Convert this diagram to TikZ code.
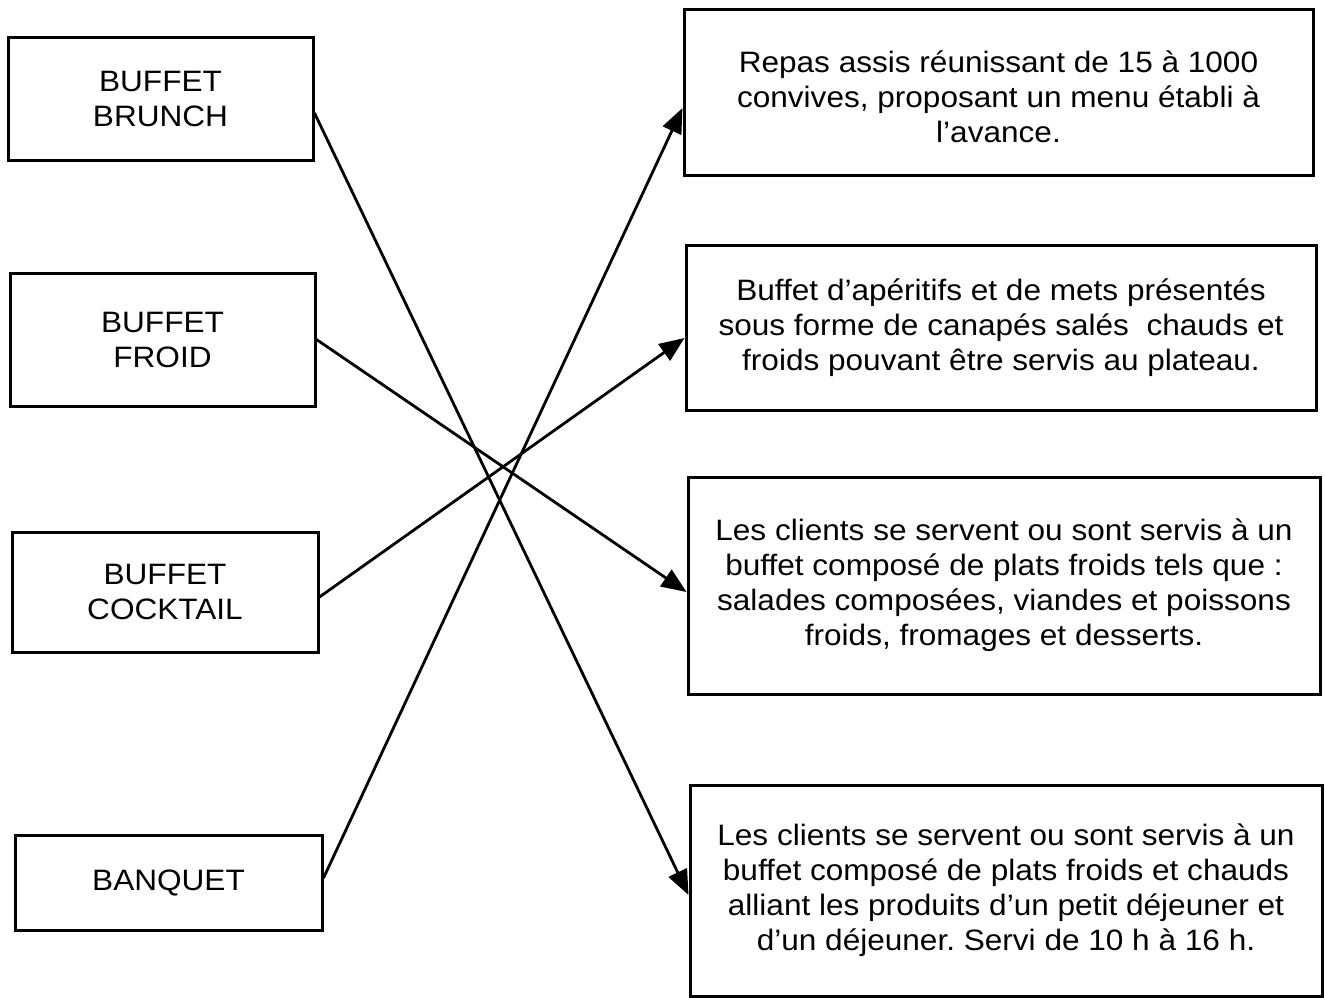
\documentclass[tikz,border=0pt]{standalone}
\usepackage{fontspec}
\setmainfont{Liberation Sans}[FakeStretch=1.07]
\frenchspacing
\usetikzlibrary{arrows.meta}
\tikzset{
  box/.style={draw, line width=3pt, rectangle, align=center, inner sep=0pt,
    font=\fontsize{29.5}{35}\selectfont},
  conn/.style={line width=2.8pt, -{Triangle[length=25pt,width=20pt]}}
}
\begin{document}
\begin{tikzpicture}[x=1pt,y=-1pt]
\useasboundingbox (0,0) rectangle (1325,997);
% left boxes
\node[box, minimum width=305pt, minimum height=123pt] (brunch) at (160.5,98.5) {BUFFET\\BRUNCH};
\node[box, minimum width=305pt, minimum height=133pt] (froid) at (162.5,339.5) {BUFFET\\FROID};
\node[box, minimum width=306pt, minimum height=120pt] (cocktail) at (165,592) {BUFFET\\COCKTAIL};
\node[box, minimum width=307pt, minimum height=95pt] (banquet) at (168.5,882.5) {BANQUET};
% right boxes
\node[box, minimum width=629pt, minimum height=166pt] (r1) at (998.5,92)
  {\raisebox{-8pt}[\height][\depth]{\begin{tabular}{@{}c@{}}Repas assis réunissant de 15 à 1000\\convives, proposant un menu établi à\\l’avance.\end{tabular}}};
\node[box, minimum width=630pt, minimum height=165pt] (r2) at (1001,327.5)
  {Buffet d’apéritifs et de mets présentés\\sous forme de canapés salés\ \ chauds et\\froids pouvant être servis au plateau.};
\node[box, minimum width=632pt, minimum height=217pt] (r3) at (1004,585.5)
  {Les clients se servent ou sont servis à un\\buffet composé de plats froids tels que :\\salades composées, viandes et poissons\\froids, fromages et desserts.};
\node[box, minimum width=632pt, minimum height=211pt] (r4) at (1006,890.5)
  {Les clients se servent ou sont servis à un\\buffet composé de plats froids et chauds\\alliant les produits d’un petit déjeuner et\\d’un déjeuner. Servi de 10 h à 16 h.};
% connectors
\draw[conn] ([yshift=-14.5pt]brunch.east) -- ([yshift=-4.5pt]r4.west);
\draw[conn] (froid.east) -- ([yshift=-6.5pt]r3.west);
\draw[conn] ([yshift=-5pt]cocktail.east) -- ([yshift=-10.5pt]r2.west);
\draw[conn] ([yshift=4.5pt]banquet.east) -- ([yshift=-16pt]r1.west);
\end{tikzpicture}
\end{document}
